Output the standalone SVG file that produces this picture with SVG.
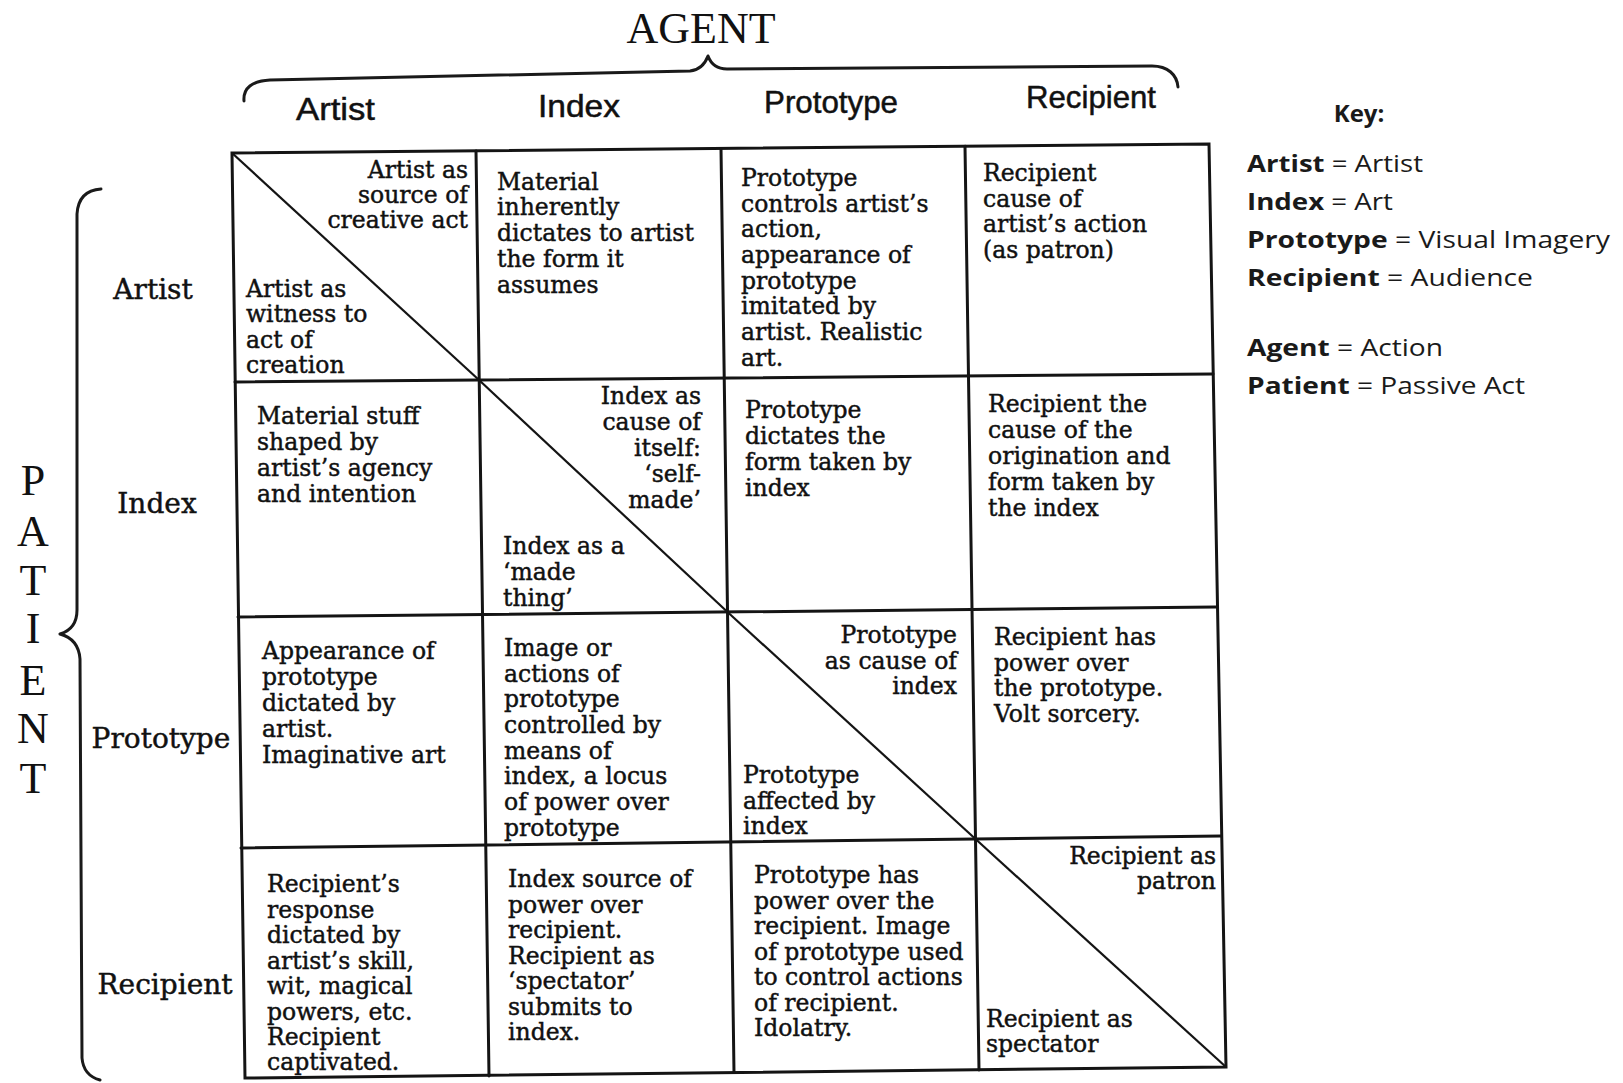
<svg xmlns="http://www.w3.org/2000/svg" width="1623" height="1083" viewBox="0 0 1623 1083">
<style>
.ln{stroke:#141414;stroke-width:3;fill:none;stroke-linecap:round}
.dg{stroke:#141414;stroke-width:2.2;fill:none}
.br{stroke:#1a1a1a;stroke-width:3;fill:none;stroke-linecap:round;stroke-linejoin:round}
.c{font-family:"DejaVu Serif","Liberation Serif",serif;font-size:23.5px;fill:#111;stroke:#111;stroke-width:0.45}
.r{text-anchor:end}
.rh{font-family:"DejaVu Serif","Liberation Serif",serif;font-size:28px;fill:#111;stroke:#111;stroke-width:0.45;text-anchor:middle}
.ch{font-family:"Liberation Sans",Arial,sans-serif;font-size:32px;fill:#111;stroke:#111;stroke-width:0.5}
.big{font-family:"Liberation Serif","Times New Roman",serif;font-size:44px;fill:#111;text-anchor:middle}
.k{font-family:"Open Sans","Noto Sans",sans-serif;font-size:24px;fill:#1a1a1a}
.kb{font-weight:bold}
</style>
<rect width="1623" height="1083" fill="#ffffff"/>

<g id="agent-title">
<text class="big" x="701" y="43">AGENT</text>
<path class="br" d="M244 101 C243 88 252 81 270 80 L690 71 C700 70 705 64 708 56 C711 64 716 69 727 69 L1152 66 C1168 66 1177 75 1178 87"/>
</g>

<g id="patient-title">
<path class="br" d="M101 189 C86 190 78 198 77 214 L77 610 C77 624 70 631 60 634 C71 637 79 645 80 659 L82 1058 C83 1070 89 1077 100 1080"/>
<text class="big" x="33" y="495">P</text>
<text class="big" x="33" y="546">A</text>
<text class="big" x="33" y="595">T</text>
<text class="big" x="33" y="643">I</text>
<text class="big" x="33" y="695">E</text>
<text class="big" x="33" y="743">N</text>
<text class="big" x="33" y="793">T</text>
</g>

<g id="col-headers">
<text class="ch" x="296" y="120" textLength="79" lengthAdjust="spacingAndGlyphs">Artist</text>
<text class="ch" x="538" y="117" textLength="82" lengthAdjust="spacingAndGlyphs">Index</text>
<text class="ch" x="764" y="113" textLength="134" lengthAdjust="spacingAndGlyphs">Prototype</text>
<text class="ch" x="1026" y="108" textLength="130" lengthAdjust="spacingAndGlyphs">Recipient</text>
</g>

<g id="row-headers">
<text class="rh" x="153" y="299">Artist</text>
<text class="rh" x="157" y="513">Index</text>
<text class="rh" x="161" y="748">Prototype</text>
<text class="rh" x="165" y="994">Recipient</text>
</g>

<g id="grid">
<polygon class="ln" points="232,153 1209,144 1226,1067 245,1078"/>
<line class="ln" x1="476" y1="151" x2="489" y2="1076"/>
<line class="ln" x1="721" y1="148.5" x2="734" y2="1072.5"/>
<line class="ln" x1="965" y1="146.2" x2="979" y2="1070"/>
<line class="ln" x1="235" y1="382" x2="1213" y2="374"/>
<line class="ln" x1="238" y1="617" x2="1216" y2="607"/>
<line class="ln" x1="241" y1="848" x2="1221" y2="836"/>
<line class="dg" x1="232" y1="153" x2="479" y2="380"/>
<line class="dg" x1="479" y1="380" x2="727.5" y2="612"/>
<line class="dg" x1="727.5" y1="612" x2="975.5" y2="839"/>
<line class="dg" x1="975.5" y1="839" x2="1226" y2="1067"/>
</g>

<g id="cell-artist-artist">
<text class="c r"><tspan x="468" y="178">Artist as</tspan><tspan x="468" y="203">source of</tspan><tspan x="468" y="228">creative act</tspan></text>
<text class="c"><tspan x="246" y="297">Artist as</tspan><tspan x="246" y="322">witness to</tspan><tspan x="246" y="347.5">act of</tspan><tspan x="246" y="373">creation</tspan></text>
</g>
<g id="cell-artist-index">
<text class="c"><tspan x="497" y="190">Material</tspan><tspan x="497" y="215">inherently</tspan><tspan x="497" y="241">dictates to artist</tspan><tspan x="497" y="267">the form it</tspan><tspan x="497" y="293">assumes</tspan></text>
</g>
<g id="cell-artist-prototype">
<text class="c"><tspan x="741" y="186">Prototype</tspan><tspan x="741" y="212">controls artist’s</tspan><tspan x="741" y="237">action,</tspan><tspan x="741" y="263">appearance of</tspan><tspan x="741" y="289">prototype</tspan><tspan x="741" y="314">imitated by</tspan><tspan x="741" y="340">artist. Realistic</tspan><tspan x="741" y="366">art.</tspan></text>
</g>
<g id="cell-artist-recipient">
<text class="c"><tspan x="983" y="181">Recipient</tspan><tspan x="983" y="207">cause of</tspan><tspan x="983" y="232">artist’s action</tspan><tspan x="983" y="258">(as patron)</tspan></text>
</g>

<g id="cell-index-artist">
<text class="c"><tspan x="257" y="424">Material stuff</tspan><tspan x="257" y="450">shaped by</tspan><tspan x="257" y="476">artist’s agency</tspan><tspan x="257" y="502">and intention</tspan></text>
</g>
<g id="cell-index-index">
<text class="c r"><tspan x="701" y="404">Index as</tspan><tspan x="701" y="430">cause of</tspan><tspan x="701" y="456">itself:</tspan><tspan x="701" y="482">‘self-</tspan><tspan x="701" y="508">made’</tspan></text>
<text class="c"><tspan x="503" y="554">Index as a</tspan><tspan x="503" y="580">‘made</tspan><tspan x="503" y="606">thing’</tspan></text>
</g>
<g id="cell-index-prototype">
<text class="c"><tspan x="745" y="418">Prototype</tspan><tspan x="745" y="444">dictates the</tspan><tspan x="745" y="470">form taken by</tspan><tspan x="745" y="496">index</tspan></text>
</g>
<g id="cell-index-recipient">
<text class="c"><tspan x="988" y="412">Recipient the</tspan><tspan x="988" y="438">cause of the</tspan><tspan x="988" y="464">origination and</tspan><tspan x="988" y="490">form taken by</tspan><tspan x="988" y="516">the index</tspan></text>
</g>

<g id="cell-prototype-artist">
<text class="c"><tspan x="262" y="659">Appearance of</tspan><tspan x="262" y="685">prototype</tspan><tspan x="262" y="711">dictated by</tspan><tspan x="262" y="737">artist.</tspan><tspan x="262" y="763">Imaginative art</tspan></text>
</g>
<g id="cell-prototype-index">
<text class="c"><tspan x="504" y="656">Image or</tspan><tspan x="504" y="682">actions of</tspan><tspan x="504" y="707">prototype</tspan><tspan x="504" y="733">controlled by</tspan><tspan x="504" y="759">means of</tspan><tspan x="504" y="784">index, a locus</tspan><tspan x="504" y="810">of power over</tspan><tspan x="504" y="836">prototype</tspan></text>
</g>
<g id="cell-prototype-prototype">
<text class="c r"><tspan x="957" y="643">Prototype</tspan><tspan x="957" y="669">as cause of</tspan><tspan x="957" y="694">index</tspan></text>
<text class="c"><tspan x="743" y="783">Prototype</tspan><tspan x="743" y="809">affected by</tspan><tspan x="743" y="834">index</tspan></text>
</g>
<g id="cell-prototype-recipient">
<text class="c"><tspan x="994" y="645">Recipient has</tspan><tspan x="994" y="671">power over</tspan><tspan x="994" y="696">the prototype.</tspan><tspan x="994" y="722">Volt sorcery.</tspan></text>
</g>

<g id="cell-recipient-artist">
<text class="c"><tspan x="267" y="892">Recipient’s</tspan><tspan x="267" y="918">response</tspan><tspan x="267" y="943">dictated by</tspan><tspan x="267" y="969">artist’s skill,</tspan><tspan x="267" y="994">wit, magical</tspan><tspan x="267" y="1020">powers, etc.</tspan><tspan x="267" y="1045">Recipient</tspan><tspan x="267" y="1070">captivated.</tspan></text>
</g>
<g id="cell-recipient-index">
<text class="c"><tspan x="508" y="887">Index source of</tspan><tspan x="508" y="913">power over</tspan><tspan x="508" y="938">recipient.</tspan><tspan x="508" y="964">Recipient as</tspan><tspan x="508" y="989">‘spectator’</tspan><tspan x="508" y="1015">submits to</tspan><tspan x="508" y="1040">index.</tspan></text>
</g>
<g id="cell-recipient-prototype">
<text class="c"><tspan x="754" y="883">Prototype has</tspan><tspan x="754" y="909">power over the</tspan><tspan x="754" y="934">recipient. Image</tspan><tspan x="754" y="960">of prototype used</tspan><tspan x="754" y="985">to control actions</tspan><tspan x="754" y="1011">of recipient.</tspan><tspan x="754" y="1036">Idolatry.</tspan></text>
</g>
<g id="cell-recipient-recipient">
<text class="c r"><tspan x="1216" y="864">Recipient as</tspan><tspan x="1216" y="889">patron</tspan></text>
<text class="c"><tspan x="986" y="1027">Recipient as</tspan><tspan x="986" y="1052">spectator</tspan></text>
</g>

<g id="key">
<text class="k kb" x="1359" y="122" text-anchor="middle">Key:</text>
<text class="k" x="1247" y="172" textLength="176" lengthAdjust="spacingAndGlyphs"><tspan class="kb">Artist</tspan> = Artist</text>
<text class="k" x="1247" y="210" textLength="146" lengthAdjust="spacingAndGlyphs"><tspan class="kb">Index</tspan> = Art</text>
<text class="k" x="1247" y="248" textLength="363" lengthAdjust="spacingAndGlyphs"><tspan class="kb">Prototype</tspan> = Visual Imagery</text>
<text class="k" x="1247" y="286" textLength="286" lengthAdjust="spacingAndGlyphs"><tspan class="kb">Recipient</tspan> = Audience</text>
<text class="k" x="1247" y="356" textLength="196" lengthAdjust="spacingAndGlyphs"><tspan class="kb">Agent</tspan> = Action</text>
<text class="k" x="1247" y="394" textLength="278" lengthAdjust="spacingAndGlyphs"><tspan class="kb">Patient</tspan> = Passive Act</text>
</g>
</svg>
